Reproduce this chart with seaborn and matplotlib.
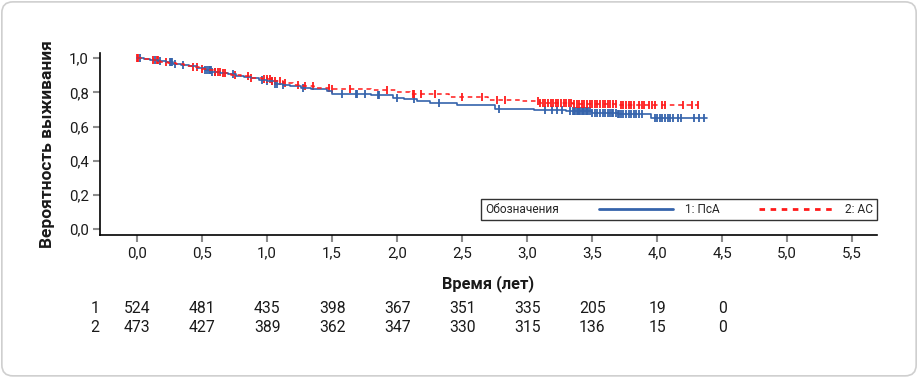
"""
Kaplan-Meier survival curves for two groups (ПсА vs АС) with a
numbers-at-risk table under the x axis.
"""
import numpy as np
import seaborn as sns
import matplotlib.pyplot as plt
from matplotlib.lines import Line2D
from matplotlib.patches import FancyBboxPatch
from matplotlib.offsetbox import HPacker

sns.set_style("ticks")
plt.rcParams["font.family"] = ["Roboto", "DejaVu Sans"]

# step points of the survival curves (time in years, survival probability)
time_1 = [0.00, 0.05, 0.10, 0.16, 0.22, 0.28, 0.34, 0.40, 0.46, 0.52, 0.58, 0.64,
          0.70, 0.76, 0.82, 0.88, 0.94, 1.00, 1.06, 1.12, 1.18, 1.26, 1.34, 1.46,
          1.50, 1.60, 1.80, 1.97, 2.05, 2.15, 2.25, 2.46, 2.75, 3.05, 3.30, 3.50,
          3.70, 3.95, 4.38]
surv_1 = [1.000, 0.996, 0.990, 0.984, 0.976, 0.968, 0.960, 0.952, 0.942, 0.932,
          0.922, 0.914, 0.906, 0.898, 0.890, 0.882, 0.874, 0.864, 0.852, 0.844,
          0.836, 0.826, 0.818, 0.810, 0.792, 0.788, 0.782, 0.768, 0.760, 0.748,
          0.740, 0.728, 0.702, 0.696, 0.690, 0.680, 0.676, 0.652, 0.652]

time_2 = [0.00, 0.06, 0.12, 0.18, 0.24, 0.30, 0.36, 0.42, 0.48, 0.54, 0.60, 0.66,
          0.72, 0.80, 0.88, 0.96, 1.04, 1.12, 1.20, 1.28, 1.36, 1.50, 1.80, 2.00,
          2.10, 2.40, 2.70, 2.95, 3.10, 3.35, 3.70, 4.31]
surv_2 = [1.000, 0.994, 0.988, 0.980, 0.972, 0.964, 0.956, 0.948, 0.940, 0.930,
          0.920, 0.912, 0.904, 0.896, 0.886, 0.876, 0.864, 0.854, 0.846, 0.836,
          0.828, 0.822, 0.812, 0.800, 0.790, 0.776, 0.758, 0.748, 0.740, 0.733,
          0.726, 0.726]

# censored observations (years)
censor_1 = [0.02, 0.14, 0.18, 0.25, 0.26, 0.27, 0.29, 0.35, 0.52, 0.54, 0.55, 0.56,
            0.57, 0.58, 0.60, 0.74, 0.96, 1.00, 1.04, 1.06, 1.08, 1.12, 1.28, 1.58,
            1.68, 1.69, 1.75, 1.85, 1.86, 2.00, 2.13, 2.32, 2.78, 3.14, 3.19, 3.23,
            3.27, 3.33, 3.35, 3.36, 3.37, 3.38, 3.39, 3.40, 3.41, 3.42, 3.43, 3.44,
            3.45, 3.46, 3.47, 3.48, 3.50, 3.52, 3.54, 3.56, 3.58, 3.60, 3.62, 3.64,
            3.65, 3.66, 3.68, 3.70, 3.71, 3.72, 3.74, 3.76, 3.78, 3.80, 3.82, 3.84,
            3.86, 3.88, 3.98, 4.00, 4.02, 4.04, 4.06, 4.08, 4.10, 4.12, 4.16, 4.18,
            4.28, 4.32, 4.36]
censor_2 = [0.00, 0.01, 0.12, 0.15, 0.16, 0.22, 0.43, 0.46, 0.50, 0.60, 0.62, 0.64,
            0.66, 0.68, 0.75, 0.85, 0.88, 0.98, 1.00, 1.02, 1.04, 1.06, 1.10, 1.14,
            1.24, 1.29, 1.35, 1.48, 1.50, 1.64, 1.92, 2.12, 2.13, 2.18, 2.29, 2.50,
            2.65, 2.77, 2.83, 3.08, 3.10, 3.12, 3.14, 3.16, 3.18, 3.20, 3.22, 3.24,
            3.26, 3.28, 3.30, 3.32, 3.34, 3.36, 3.38, 3.40, 3.42, 3.44, 3.46, 3.48,
            3.50, 3.52, 3.54, 3.56, 3.58, 3.60, 3.62, 3.64, 3.66, 3.68, 3.72, 3.74,
            3.76, 3.78, 3.80, 3.82, 3.86, 3.88, 3.90, 3.94, 3.96, 3.98, 4.04, 4.06,
            4.20, 4.27, 4.31]

# numbers at risk
risk_times = [0.0, 0.5, 1.0, 1.5, 2.0, 2.5, 3.0, 3.5, 4.0, 4.5]
risk_1 = [524, 481, 435, 398, 367, 351, 335, 205, 19, 0]
risk_2 = [473, 427, 389, 362, 347, 330, 315, 136, 15, 0]

group_labels = ["1: ПсА", "2: АС"]
x_ticks = [0.0, 0.5, 1.0, 1.5, 2.0, 2.5, 3.0, 3.5, 4.0, 4.5, 5.0, 5.5]
x_tick_labels = ["0,0", "0,5", "1,0", "1,5", "2,0", "2,5", "3,0", "3,5", "4,0", "4,5", "5,0", "5,5"]
y_ticks = [0.0, 0.2, 0.4, 0.6, 0.8, 1.0]
y_tick_labels = ["0,0", "0,2", "0,4", "0,6", "0,8", "1,0"]

BLUE = "#3563ab"
RED = "#ff1a1a"
RED_DASH = (0, (3, 2.5))
TEXT = "#1a1a1a"


def surv_at(times, surv, t):
    """Survival value of a step curve at the given times."""
    idx = np.searchsorted(np.asarray(times), np.asarray(t), side="right") - 1
    return np.asarray(surv)[idx]


fig = plt.figure(figsize=(9.18, 3.77), dpi=100)

# card border
fig.patches.append(FancyBboxPatch((0.002, 0.003), 0.996, 0.992, boxstyle="round,pad=0,rounding_size=0.012",
                                  transform=fig.transFigure, facecolor="none", edgecolor="#cfcfcf",
                                  linewidth=1.2, mutation_aspect=918 / 377, zorder=-1))

ax = fig.add_axes([0.1089, 0.3767, 0.8464, 0.4823])
ax.set_facecolor("none")

sns.lineplot(x=time_1, y=surv_1, drawstyle="steps-post", color=BLUE, linewidth=1.2,
             estimator=None, ax=ax)
sns.lineplot(x=time_2, y=surv_2, drawstyle="steps-post", color=RED, linewidth=1.1,
             linestyle=RED_DASH, estimator=None, ax=ax)
sns.scatterplot(x=censor_1, y=surv_at(time_1, surv_1, censor_1), marker="|", s=30,
                color=BLUE, linewidth=1.3, ax=ax)
sns.scatterplot(x=censor_2, y=surv_at(time_2, surv_2, censor_2), marker="|", s=30,
                color=RED, linewidth=1.3, ax=ax)

ax.set_xlim(-0.285, 5.69)
ax.set_ylim(-0.035, 1.03)
ax.set_xticks(x_ticks, x_tick_labels)
ax.set_yticks(y_ticks, y_tick_labels)
ax.tick_params(axis="both", length=5, width=1.5, color="#8c8c8c", labelsize=10.8,
               labelcolor=TEXT, pad=3)
for side in ["top", "right"]:
    ax.spines[side].set_visible(False)
for side in ["left", "bottom"]:
    ax.spines[side].set_color("black")
    ax.spines[side].set_linewidth(1.2)

ax.set_xlabel("Время (лет)", fontsize=11.8, fontweight="bold", labelpad=11, color=TEXT)
ax.set_ylabel("Вероятность выживания", fontsize=12.5, fontweight="bold", labelpad=10, color=TEXT)

# numbers-at-risk table
trans = ax.get_xaxis_transform()
for row, (name, counts) in enumerate([("1", risk_1), ("2", risk_2)]):
    y = -0.405 - row * 0.103
    ax.text(-0.0064, y, name, transform=ax.transAxes, ha="center", va="center",
            fontsize=11.3, color=TEXT)
    for t, n in zip(risk_times, counts):
        ax.text(t, y, str(n), transform=trans, ha="center", va="center",
                fontsize=11.3, color=TEXT)

# legend laid out in one row: title, then the two entries
handles = [Line2D([], [], color=BLUE, linewidth=2.0),
           Line2D([], [], color=RED, linewidth=2.0, linestyle=(0, (2, 2)))]
leg = ax.legend(handles, group_labels, ncol=2, title="Обозначения", title_fontsize=8.6,
                fontsize=8.6, loc="lower right", bbox_to_anchor=(1.0, 0.082),
                frameon=True, fancybox=False, edgecolor="black", handlelength=6.2,
                handletextpad=1.0, columnspacing=3.3, borderpad=0.35, borderaxespad=0)
leg.get_frame().set_linewidth(1.0)
box = HPacker(pad=leg.borderpad * leg._fontsize, sep=3.3 * leg._fontsize, align="center",
              children=[leg._legend_title_box, leg._legend_handle_box])
box.set_figure(fig)
box.axes = ax
box.set_offset(leg._findoffset)
leg._legend_box = box

plt.savefig("out.png", dpi=100)
